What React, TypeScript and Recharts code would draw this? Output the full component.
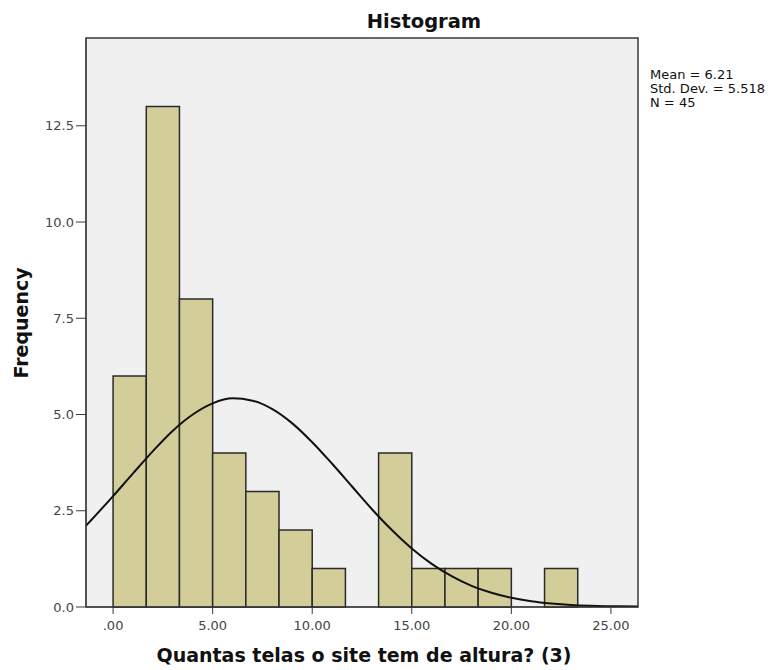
import React from 'react';
import { ComposedChart, Line, XAxis, YAxis, ReferenceArea } from 'recharts';

// histogram bins (width 5/3)
const binStarts = [0, 1.667, 3.333, 5, 6.667, 8.333, 10, 11.667, 13.333, 15, 16.667, 18.333, 20, 21.667];
const binEnds = [1.667, 3.333, 5, 6.667, 8.333, 10, 11.667, 13.333, 15, 16.667, 18.333, 20, 21.667, 23.333];
const counts = [6, 13, 8, 4, 3, 2, 1, 0, 4, 1, 1, 1, 0, 1];

// normal curve
const curveX = [-1.36, 0, 1, 2, 3, 4, 5, 6, 7, 8, 9, 10, 11, 12, 13, 14, 15, 16, 17, 18, 19, 20, 21, 22, 23, 24, 25, 26.36];
const curveY = [2.11, 2.88, 3.47, 4.05, 4.58, 5.0, 5.29, 5.42, 5.36, 5.14, 4.77, 4.28, 3.72, 3.13, 2.54, 2.0, 1.52, 1.12, 0.8, 0.55, 0.37, 0.24, 0.15, 0.09, 0.05, 0.03, 0.02, 0.01];

const xTicks = [0, 5, 10, 15, 20, 25];
const yTicks = [0, 2.5, 5, 7.5, 10, 12.5];
const statsLines = ['Mean = 6.21', 'Std. Dev. = 5.518', 'N = 45'];

const X_MIN = -1.36;
const X_MAX = 26.36;
const Y_MAX = 14.78;

const curveData = curveX.map((x, i) => ({ x, y: curveY[i] }));

const fmtX = (v: number) => (v === 0 ? '.00' : v.toFixed(2));
const fmtY = (v: number) => v.toFixed(1);

const App: React.FC = () => {
  return (
    <div style={{ position: 'absolute', left: 0, top: 0, width: 781, height: 670, background: '#fff' }}>
      <ComposedChart
        width={781}
        height={670}
        data={curveData}
        margin={{ top: 38, right: 143, bottom: 0, left: 0 }}
      >
        <XAxis
          dataKey="x"
          type="number"
          domain={[X_MIN, X_MAX]}
          ticks={xTicks}
          tickFormatter={fmtX}
          allowDataOverflow
          stroke="#3a3a3a"
          tickSize={7}
          tickMargin={7}
          tick={{ fill: '#444', fontSize: 13, fontFamily: 'DejaVu Sans' }}
          height={63}
        />
        <YAxis
          type="number"
          domain={[0, Y_MAX]}
          ticks={yTicks}
          tickFormatter={fmtY}
          allowDataOverflow
          stroke="#3a3a3a"
          tickSize={10}
          tickMargin={2}
          tick={{ fill: '#444', fontSize: 13, fontFamily: 'DejaVu Sans' }}
          width={86}
        />
        <ReferenceArea x1={X_MIN} x2={X_MAX} y1={0} y2={Y_MAX} fill="#f0f0f0" fillOpacity={1} stroke="#3a3a3a" strokeWidth={1.5} />
        {counts.map((c, i) =>
          c > 0 ? (
            <ReferenceArea
              key={i}
              x1={binStarts[i]}
              x2={binEnds[i]}
              y1={0}
              y2={c}
              fill="#d3ce99"
              fillOpacity={1}
              stroke="#2a2a2a"
              strokeWidth={1.5}
            />
          ) : null
        )}
        <Line type="monotone" dataKey="y" stroke="#111" strokeWidth={2} dot={false} isAnimationActive={false} />
        <text x={424} y={28} textAnchor="middle" fontFamily="DejaVu Sans" fontWeight="bold" fontSize={19.5} fill="#111">
          Histogram
        </text>
        <text x={364} y={662} textAnchor="middle" fontFamily="DejaVu Sans" fontWeight="bold" fontSize={19} fill="#111">
          Quantas telas o site tem de altura? (3)
        </text>
        <text
          x={28}
          y={323}
          textAnchor="middle"
          transform="rotate(-90 28 323)"
          fontFamily="DejaVu Sans"
          fontWeight="bold"
          fontSize={19}
          fill="#111"
        >
          Frequency
        </text>
        {statsLines.map((s, i) => (
          <text key={s} x={650} y={79 + i * 14} fontFamily="DejaVu Sans" fontSize={13} fill="#111">
            {s}
          </text>
        ))}
      </ComposedChart>
    </div>
  );
};

export default App;
